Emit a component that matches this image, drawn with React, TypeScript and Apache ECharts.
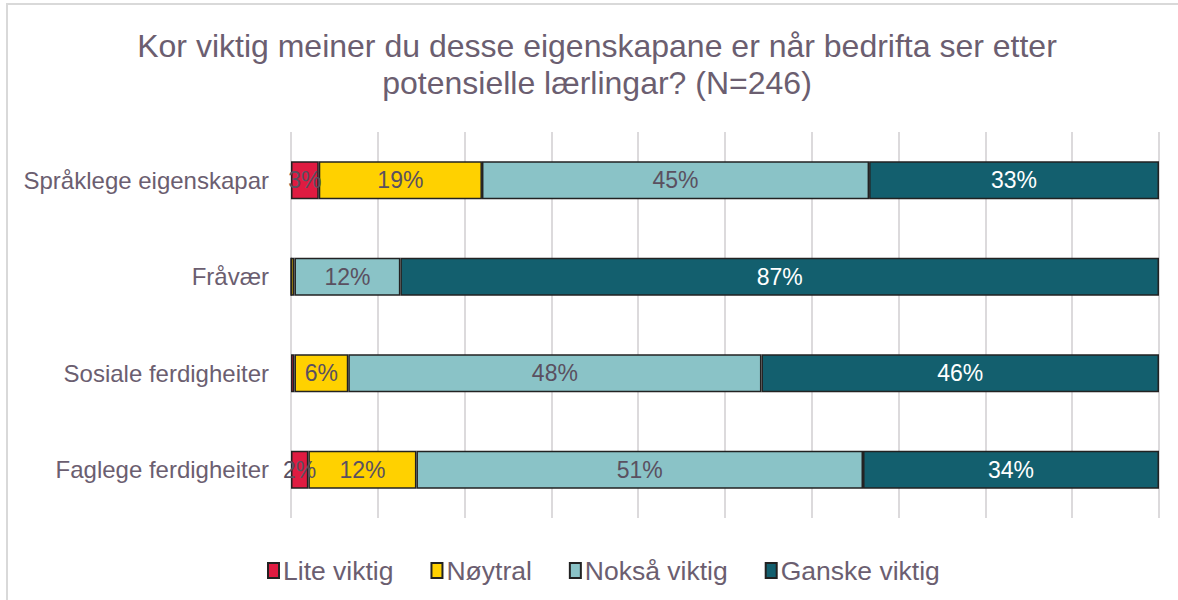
import React, { useEffect, useRef } from "react";
import * as echarts from "echarts";

const titleText = "Kor viktig meiner du desse eigenskapane er når bedrifta ser etter\npotensielle lærlingar? (N=246)";
const categories = ["Språklege eigenskapar", "Fråvær", "Sosiale ferdigheiter", "Faglege ferdigheiter"];
const seriesNames = ["Lite viktig", "Nøytral", "Nokså viktig", "Ganske viktig"];
const liteViktig = [3.2, 0, 0.4, 2.0];
const noytral = [18.8, 0.4, 6.2, 12.45];
const noksaViktig = [44.6, 12.2, 47.6, 51.45];
const ganskeViktig = [33.4, 87.4, 45.8, 34.1];
const colors = ["#DF1B41", "#FFD100", "#8AC3C7", "#135F6E"];
const labelColors = ["#5a5060", "#5a5060", "#5a5060", "#ffffff"];

const FONT = "'Liberation Sans', Arial, sans-serif";
const TEXT = "#6b5e70";

export default function App() {
  const ref = useRef<HTMLDivElement>(null);
  useEffect(() => {
    if (!ref.current) return;
    const chart = echarts.init(ref.current, undefined, { renderer: "svg" });
    const values = [liteViktig, noytral, noksaViktig, ganskeViktig];
    chart.setOption({
      animation: false,
      backgroundColor: "#ffffff",
      textStyle: { fontFamily: FONT },
      title: {
        text: titleText,
        left: 592,
        top: 22,
        textAlign: "center",
        textStyle: { fontFamily: FONT, fontSize: 32, fontWeight: "normal", color: TEXT, lineHeight: 37 },
      },
      graphic: [
        {
          type: "rect",
          shape: { x: 7, y: 4, width: 1300, height: 800 },
          style: { fill: "none", stroke: "#d9d9d9", lineWidth: 2 },
          silent: true,
        },
      ],
      legend: {
        data: seriesNames,
        left: 262,
        top: 552,
        itemWidth: 11,
        itemHeight: 15,
        itemGap: 37,
        icon: "rect",
        textStyle: { fontFamily: FONT, fontSize: 26.5, color: TEXT, padding: [0, 0, 0, -1] },
      },
      grid: { left: 291, right: 19, top: 132, height: 386, containLabel: false },
      xAxis: {
        type: "value",
        min: 0,
        max: 100,
        interval: 10,
        axisLabel: { show: false },
        axisLine: { show: false },
        axisTick: { show: false },
        splitLine: { show: true, lineStyle: { color: "#dcdadc", width: 2 } },
      },
      yAxis: {
        type: "category",
        data: categories,
        inverse: true,
        axisLine: { show: false },
        axisTick: { show: false },
        axisLabel: { fontFamily: FONT, fontSize: 24, color: TEXT, margin: 22 },
      },
      series: seriesNames.map((name, i) => ({
        name,
        type: "bar",
        stack: "total",
        barWidth: 38,
        data: values[i],
        itemStyle: { color: colors[i], borderColor: "#222222", borderWidth: 1.5 },
        label: {
          show: true,
          position: "inside",
          fontFamily: FONT,
          fontSize: 23,
          color: labelColors[i],
          formatter: (p: any) => (p.value < 1 ? "" : Math.round(p.value) + "%"),
        },
      })),
    });
    return () => chart.dispose();
  }, []);
  return <div ref={ref} style={{ position: "fixed", left: 0, top: 0, width: 1178, height: 600 }} />;
}
